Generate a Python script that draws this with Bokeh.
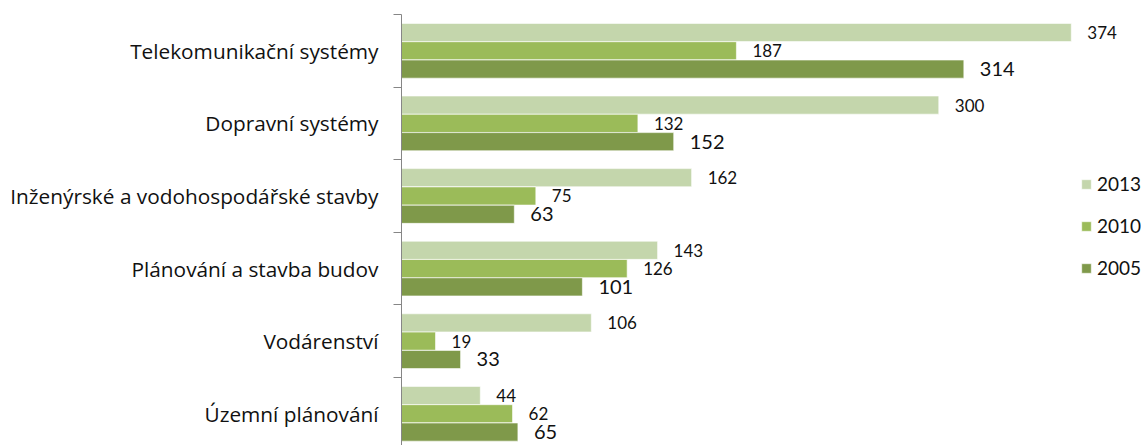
from bokeh.plotting import figure
from bokeh.models import ColumnDataSource, Range1d, FixedTicker, Legend, LegendItem
from bokeh.core.properties import value
from bokeh.embed import file_html
from bokeh.resources import INLINE

categories = ["Telekomunikační systémy", "Dopravní systémy",
              "Inženýrské a vodohospodářské stavby", "Plánování a stavba budov",
              "Vodárenství", "Územní plánování"]
series_names = ["2013", "2010", "2005"]
v2013 = [374, 300, 162, 143, 106, 44]
v2010 = [187, 132, 75, 126, 19, 62]
v2005 = [314, 152, 63, 101, 33, 65]
colors = ["#C4D6AC", "#9BBB59", "#7F994A"]

n = len(categories)
centers = [n - 0.5 - i for i in range(n)]
offsets = [0.252, 0.0, -0.252]
label_sizes = ["17px", "17px", "20px"]

p = figure(width=1141, height=445, output_backend="svg", toolbar_location=None,
           x_range=Range1d(0, 413.2), y_range=Range1d(0.063, 6),
           min_border_left=401, min_border_top=14, min_border_bottom=0, min_border_right=0)
p.outline_line_color = None
p.xaxis.visible = False
p.xgrid.visible = False
p.ygrid.visible = False

renderers = []
for vals, off, col, name, fs in zip([v2013, v2010, v2005], offsets, colors, series_names, label_sizes):
    src = ColumnDataSource(dict(y=[c + off for c in centers], x=vals,
                                t=[str(v) for v in vals]))
    r = p.hbar(y="y", right="x", left=0, height=0.25, source=src,
               fill_color=col, line_color="white", line_width=0.6)
    renderers.append((name, r))
    p.text(x="x", y="y", text="t", source=src, x_offset=16,
           text_baseline="middle", text_align="left",
           text_font=value("Lato"), text_font_size=fs, text_color="#111111")

ax = p.yaxis[0]
ax.ticker = FixedTicker(ticks=centers, minor_ticks=list(range(0, n + 1)))
ax.major_label_overrides = {c: cat for c, cat in zip(centers, categories)}
ax.major_tick_out = 0
ax.major_tick_in = 0
ax.minor_tick_out = 8
ax.minor_tick_in = 0
ax.minor_tick_line_color = "#868686"
ax.axis_line_color = "#868686"
ax.major_label_standoff = 15
ax.major_label_text_font = "Open Sans"
ax.major_label_text_font_size = "20.8px"
ax.major_label_text_color = "#111111"

legend = Legend(items=[LegendItem(label=nm, renderers=[r]) for nm, r in renderers],
                location=(679, 166), padding=0, margin=0, spacing=19,
                glyph_width=12, glyph_height=12, label_height=20, label_standoff=5,
                label_text_font="Lato", label_text_font_size="19px",
                label_text_color="#111111", border_line_color=None,
                background_fill_alpha=0)
p.add_layout(legend)

open("out.html", "w").write(file_html(p, INLINE))
